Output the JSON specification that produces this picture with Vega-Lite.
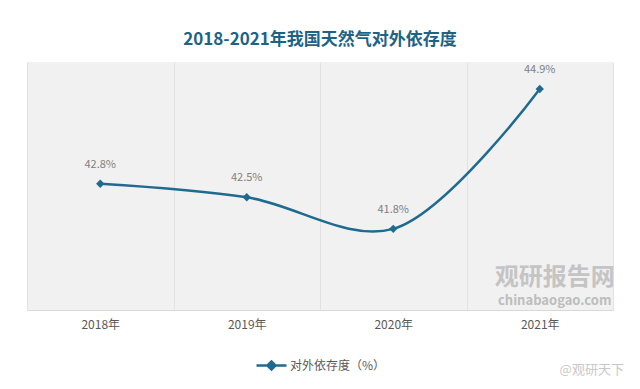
{
  "$schema": "https://vega.github.io/schema/vega-lite/v6.json",
  "width": 586,
  "height": 248,
  "autosize": {"type": "none"},
  "padding": {"left": 27, "top": 62, "right": 27, "bottom": 79},
  "background": "#ffffff",
  "title": {
    "text": "2018-2021年我国天然气对外依存度",
    "fontSize": 17,
    "fontWeight": "bold",
    "color": "#1d6386",
    "font": "Noto Sans CJK SC",
    "anchor": "middle",
    "offset": 13
  },
  "config": {
    "view": {"fill": "#f1f1f1", "stroke": null},
    "font": "Noto Sans CJK SC"
  },
  "datasets": {
    "main": [
      {"year": "2018年", "value": 42.8, "series": "对外依存度（%）"},
      {"year": "2019年", "value": 42.5, "series": "对外依存度（%）"},
      {"year": "2020年", "value": 41.8, "series": "对外依存度（%）"},
      {"year": "2021年", "value": 44.9, "series": "对外依存度（%）"}
    ],
    "mark": [
      {"year": "2021年", "value": 40.72, "text": "观研报告网", "kind": "big"},
      {"year": "2021年", "value": 40.2, "text": "chinabaogao.com", "kind": "small"},
      {"year": "2021年", "value": 38.67, "text": "@观研天下", "kind": "corner"}
    ]
  },
  "encoding": {
    "x": {
      "field": "year",
      "type": "nominal",
      "sort": null,
      "scale": {"type": "band", "domain": ["2018年", "2019年", "2020年", "2021年"], "paddingInner": 0, "paddingOuter": 0},
      "axis": {
        "title": null,
        "labelAngle": 0,
        "labelFontSize": 12,
        "labelColor": "#595959",
        "labelPadding": 9,
        "ticks": false,
        "domainColor": "#d9d9d9",
        "domainWidth": 1,
        "grid": true,
        "gridColor": "#e2e2e2",
        "tickBand": "extent"
      }
    },
    "y": {
      "field": "value",
      "type": "quantitative",
      "scale": {"domain": [40, 45.5], "zero": false, "nice": false},
      "axis": null
    }
  },
  "layer": [
    {
      "data": {"name": "mark"},
      "transform": [{"filter": "datum.kind !== 'corner'"}],
      "mark": {"type": "text", "fontWeight": "bold", "align": "center", "baseline": "middle", "dx": 15},
      "encoding": {
        "text": {"field": "text"},
        "size": {"field": "kind", "type": "nominal", "scale": {"domain": ["big", "small"], "range": [24, 13]}, "legend": null},
        "color": {"field": "kind", "type": "nominal", "scale": {"domain": ["big", "small"], "range": ["#c4c4c4", "#bdbdbd"]}, "legend": null}
      }
    },
    {
      "data": {"name": "mark"},
      "transform": [{"filter": "datum.kind === 'corner'"}],
      "mark": {"type": "text", "align": "center", "baseline": "middle", "dx": 52, "fontSize": 13, "color": "#c8c8c8"},
      "encoding": {
        "text": {"field": "text"}
      }
    },
    {
      "data": {"name": "main"},
      "mark": {"type": "line", "interpolate": "catmull-rom", "strokeWidth": 2.5},
      "encoding": {
        "stroke": {
          "field": "series",
          "type": "nominal",
          "scale": {"range": ["#1f6b8f"]},
          "legend": {
            "title": null,
            "orient": "none",
            "legendX": 228,
            "legendY": 287,
            "labelFontSize": 12,
            "labelColor": "#595959",
            "symbolType": "M-1,0L1,0M-0.27,0L0,-0.27L0.27,0L0,0.27Z",
            "symbolSize": 900,
            "symbolStrokeWidth": 2.5,
            "symbolStrokeColor": "#1f6b8f",
            "symbolFillColor": "#1f6b8f",
            "labelOffset": 2
          }
        }
      }
    },
    {
      "data": {"name": "main"},
      "mark": {"type": "point", "shape": "diamond", "filled": true, "size": 70, "color": "#1f6b8f", "opacity": 1}
    },
    {
      "data": {"name": "main"},
      "transform": [{"calculate": "format(datum.value, '.1f') + '%'", "as": "label"}],
      "mark": {"type": "text", "dy": -19, "fontSize": 11, "color": "#808080"},
      "encoding": {"text": {"field": "label"}}
    }
  ]
}
